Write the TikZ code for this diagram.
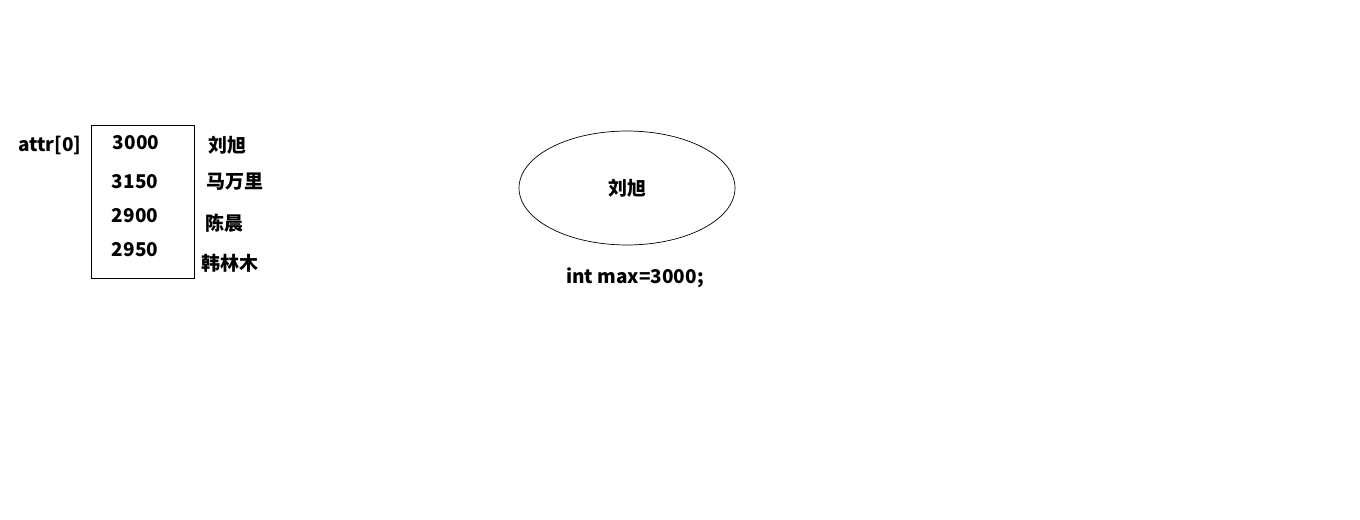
\documentclass[tikz,border=0pt]{standalone}
\usepackage{fontspec}
\setmainfont{Noto Sans CJK SC}
\usepackage{tikz}
\usetikzlibrary{shapes.geometric,positioning}
\tikzset{
    lbl/.style={font=\fontsize{10.8}{12}\selectfont\bfseries, inner sep=0pt},
    arrbox/.style={draw, line width=0.4pt, minimum width=2.06cm, minimum height=3.06cm},
}

\begin{document}
\begin{tikzpicture}[x=0.02cm,y=-0.02cm]
   \useasboundingbox (0,0) rectangle (1360,520);
   \node[arrbox] (arr) at (142.5,201.5) {};
   \node[lbl] (name) at (50,145) {attr[0]};
   % values in the array
   \node[lbl] (v0) at (136,143) {3000};
   \node[lbl] (v1) at (135,182) {3150};
   \node[lbl] (v2) at (135,216) {2900};
   \node[lbl] (v3) at (135,250) {2950};
   % owners
   \node[lbl] (n0) at (227,145) {刘旭};
   \node[lbl] (n1) at (235,182) {马万里};
   \node[lbl] (n2) at (224,223) {陈晨};
   \node[lbl] (n3) at (230,263) {韩林木};
   % current maximum
   \node[draw, ellipse, line width=0.4pt, minimum width=4.32cm, minimum height=2.28cm, lbl] (cur) at (627,188) {刘旭};
   \node[lbl] (max) at (635,278) {int max=3000;};
\end{tikzpicture}
\end{document}
